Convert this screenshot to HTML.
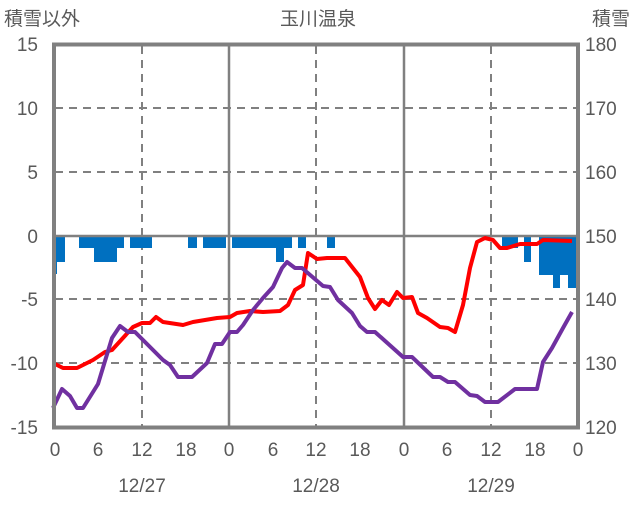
<!DOCTYPE html>
<html><head><meta charset="utf-8"><style>
body{margin:0;background:#fff}
svg text{font-family:"Liberation Sans","Noto Sans CJK JP",sans-serif;fill:#595959;font-size:19px}
</style></head><body>
<svg width="636" height="501" viewBox="0 0 636 501" xmlns="http://www.w3.org/2000/svg">
<g stroke="#808080" stroke-width="2" stroke-dasharray="8,6" fill="none">
<line x1="55" y1="108" x2="578" y2="108"/><line x1="55" y1="172" x2="578" y2="172"/>
<line x1="55" y1="299" x2="578" y2="299"/><line x1="55" y1="363" x2="578" y2="363"/>
<line x1="142" y1="46" x2="142" y2="427"/><line x1="316" y1="46" x2="316" y2="427"/><line x1="491" y1="46" x2="491" y2="427"/>
</g>
<g stroke="#808080" stroke-width="2.5"><line x1="229" y1="46" x2="229" y2="427"/><line x1="404" y1="46" x2="404" y2="427"/></g>
<g fill="#0070C0">
<rect x="53" y="236" width="4" height="38"/><rect x="57" y="236" width="8" height="26"/>
<rect x="79" y="236" width="15" height="12"/><rect x="94" y="236" width="23" height="26"/><rect x="117" y="236" width="7" height="12"/>
<rect x="130" y="236" width="22" height="12"/><rect x="188" y="236" width="9" height="12"/><rect x="203" y="236" width="23" height="12"/>
<rect x="232" y="236" width="60" height="12"/><rect x="276" y="236" width="8" height="26"/>
<rect x="298" y="236" width="8" height="12"/><rect x="327" y="236" width="8" height="12"/>
<rect x="502" y="236" width="16" height="12"/><rect x="524" y="236" width="7" height="26"/>
<rect x="539" y="236" width="14" height="39"/><rect x="553" y="236" width="7" height="52"/><rect x="560" y="236" width="8" height="39"/><rect x="568" y="236" width="8" height="52"/>
</g>
<line x1="55" y1="236" x2="578" y2="236" stroke="#808080" stroke-width="2.5"/>
<polyline fill="none" stroke="#FF0000" stroke-width="4" stroke-linejoin="round" points="53,363 63,368 77,368 93,360 105,352 112,350 133,327 142,323 150,323 156,317 163,322 183,325 193,322 217,318 230,317 237,313 250,311 263,312 280,311 288,305 295,290 303,285 308,253 317,259 327,258 345,258 360,277 368,298 375,309 382,300 389,305 397,292 403,298 412,297 418,313 427,318 440,327 448,328 455,332 463,305 470,268 477,242 485,238 493,240 500,248 507,248 520,244 537,244 543,240 572,241"/>
<polyline fill="none" stroke="#7030A0" stroke-width="4" stroke-linejoin="round" points="53,408 62,389 70,396 77,408 83,408 98,384 112,338 120,326 128,332 135,332 163,360 170,365 178,377 192,377 207,363 215,344 222,344 230,332 237,332 243,325 253,310 263,298 273,287 282,268 287,262 295,268 302,268 323,286 330,287 338,300 352,313 360,326 367,332 375,332 403,357 412,357 433,377 440,377 448,382 455,382 470,395 477,396 485,402 498,402 515,389 537,389 543,362 552,348 563,328 572,312"/>
<rect x="54" y="44.5" width="524" height="383" fill="none" stroke="#808080" stroke-width="4"/>
<g text-anchor="end">
<text x="38" y="51">15</text><text x="38" y="115">10</text><text x="38" y="179">5</text><text x="38" y="243">0</text>
<text x="38" y="306">-5</text><text x="38" y="370">-10</text><text x="38" y="434">-15</text>
</g>
<g text-anchor="start">
<text x="585" y="51">180</text><text x="585" y="115">170</text><text x="585" y="179">160</text><text x="585" y="243">150</text>
<text x="585" y="306">140</text><text x="585" y="370">130</text><text x="585" y="434">120</text>
</g>
<g text-anchor="middle">
<text x="55" y="456">0</text><text x="98" y="456">6</text><text x="142" y="456">12</text><text x="186" y="456">18</text>
<text x="229" y="456">0</text><text x="273" y="456">6</text><text x="316" y="456">12</text><text x="360" y="456">18</text>
<text x="404" y="456">0</text><text x="447" y="456">6</text><text x="491" y="456">12</text><text x="535" y="456">18</text><text x="578" y="456">0</text>
<text x="142" y="492">12/27</text><text x="316" y="492">12/28</text><text x="491" y="492">12/29</text>
<text x="318" y="25">玉川温泉</text>
</g>
<text x="4" y="25">積雪以外</text>
<text x="592" y="25">積雪</text>
</svg>
</body></html>
